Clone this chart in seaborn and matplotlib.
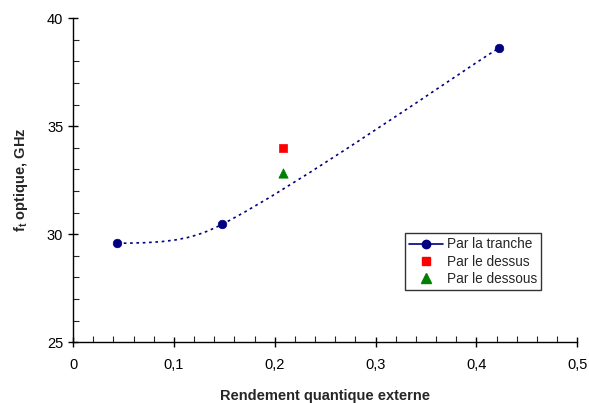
import numpy as np
import matplotlib
matplotlib.use("Agg")
import matplotlib.pyplot as plt
import seaborn as sns
from matplotlib.path import Path
from matplotlib.patches import PathPatch
from matplotlib.lines import Line2D
from matplotlib.ticker import FuncFormatter, MultipleLocator

# Data
tranche_x = [0.044, 0.148, 0.422]
tranche_y = [29.58, 30.46, 38.61]
dessus_x = [0.208]
dessus_y = [33.98]
dessous_x = [0.208]
dessous_y = [32.82]
labels = ["Par la tranche", "Par le dessus", "Par le dessous"]

sns.set_style("ticks")
plt.rcParams['font.family'] = ['Liberation Sans', 'DejaVu Sans']
plt.rcParams['mathtext.fontset'] = 'custom'
plt.rcParams['mathtext.rm'] = 'Liberation Sans'
plt.rcParams['mathtext.bf'] = 'Liberation Sans:bold'

fig = plt.figure(figsize=(5.89, 4.03), dpi=100)
ax = fig.add_axes([0.124, 0.151, 0.856, 0.804])

xmin, xmax, ymin, ymax = 0, 0.5, 25, 40
ax.set_xlim(xmin, xmax)
ax.set_ylim(ymin, ymax)

navy = "#000080"

# Smoothed curve through the data points (Bezier, styled like a spreadsheet "smoothed line")
pts = np.column_stack([tranche_x, tranche_y])
p0, p1, p2 = pts
seg0_c1 = p0 + np.array([0.55 * (p1[0] - p0[0]), 0.0])
seg0_c2 = p1 - 0.07 * (p2 - p0)
seg1_c1 = p1 + 0.19 * (p2 - p0)
seg1_c2 = p2 - (p2 - p1) / 6.0
verts = [p0, seg0_c1, seg0_c2, p1, seg1_c1, seg1_c2, p2]
codes = [Path.MOVETO] + [Path.CURVE4] * 6
ax.add_patch(PathPatch(Path(np.array(verts), codes), facecolor='none', edgecolor=navy,
                       lw=1.2, linestyle=(0, (1.6, 2.2))))

sns.scatterplot(x=tranche_x, y=tranche_y, ax=ax, color=navy, marker='o', s=38,
                edgecolor=navy, linewidth=0.5, zorder=3)
sns.scatterplot(x=dessus_x, y=dessus_y, ax=ax, color='#ff0000', marker='s', s=38,
                edgecolor='#ff0000', linewidth=0.5, zorder=3)
sns.scatterplot(x=dessous_x, y=dessous_y, ax=ax, color='#008000', marker='^', s=45,
                edgecolor='#008000', linewidth=0.5, zorder=3)

# Axes styling
for s in ['top', 'right']:
    ax.spines[s].set_visible(False)
for s in ['left', 'bottom']:
    ax.spines[s].set_color('black')
    ax.spines[s].set_linewidth(1.0)

ax.xaxis.set_major_locator(MultipleLocator(0.1))
ax.xaxis.set_minor_locator(MultipleLocator(0.02))
ax.yaxis.set_major_locator(MultipleLocator(5))
ax.yaxis.set_minor_locator(MultipleLocator(1))
ax.tick_params(which='major', direction='inout', length=7, width=1, labelsize=10.5, colors='black')
ax.tick_params(which='minor', direction='in', length=4, width=0.8)
ax.xaxis.set_major_formatter(FuncFormatter(lambda v, p: ("%g" % round(v, 2)).replace('.', ',')))
ax.yaxis.set_major_formatter(FuncFormatter(lambda v, p: "%g" % v))
ax.tick_params(axis='x', pad=8)

ax.set_xlabel("Rendement quantique externe", fontsize=10.5, fontweight='bold', labelpad=12)
ax.set_ylabel(r"$\mathbf{f}_\mathregular{t}$ optique, GHz", fontsize=10.5, fontweight='bold', labelpad=12)

handles = [
    Line2D([], [], color=navy, marker='o', markersize=6, lw=1.2),
    Line2D([], [], color='#ff0000', marker='s', markersize=6, lw=0),
    Line2D([], [], color='#008000', marker='^', markersize=6.5, lw=0),
]
leg = ax.legend(handles, labels, loc='upper left', bbox_to_anchor=(0.659, 0.336),
                frameon=True, fancybox=False, fontsize=9.8, handlelength=2.5,
                borderpad=0.3, labelspacing=0.25, handletextpad=0.25, borderaxespad=0)
leg.get_frame().set_edgecolor('black')
leg.get_frame().set_linewidth(1.0)

fig.savefig("out.png", dpi=100)
